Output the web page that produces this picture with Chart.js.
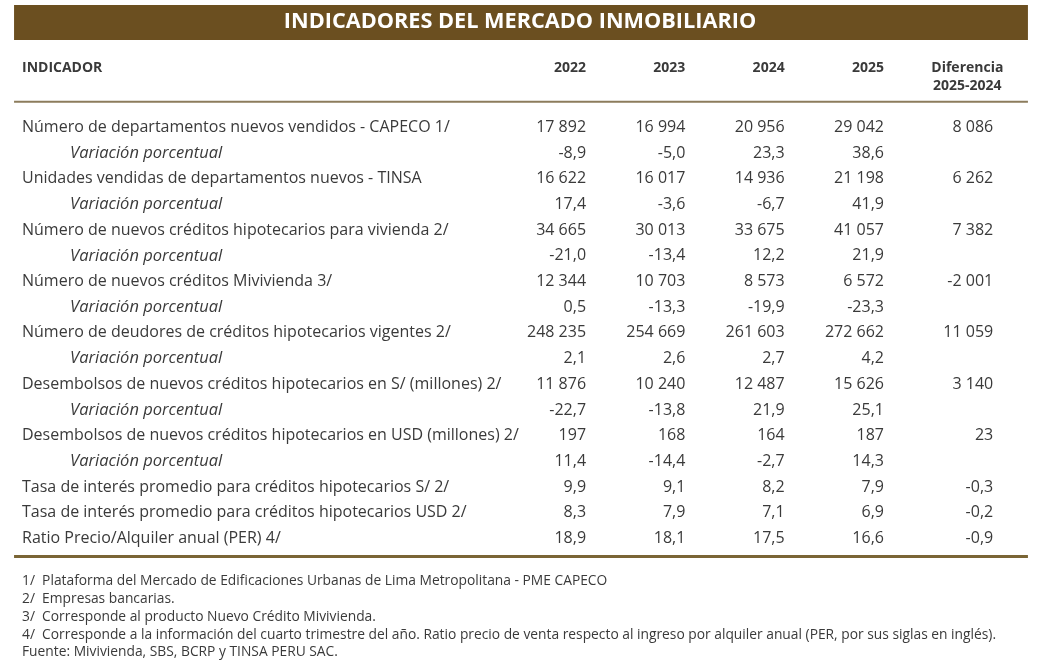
<!DOCTYPE html>
<html lang="es">
<head>
<meta charset="utf-8">
<title>Indicadores del mercado inmobiliario</title>
<script src="https://cdn.jsdelivr.net/npm/chart.js@4.4.1/dist/chart.umd.min.js"></script>
<style>
  html, body { margin: 0; padding: 0; background: #ffffff; }
  #contenedor { width: 1040px; height: 669px; }
</style>
</head>
<body>
<div id="contenedor"><canvas id="cuadroTabla"></canvas></div>
<script>

// datos de la tabla
var titulo = "INDICADORES DEL MERCADO INMOBILIARIO";
var anios = ["2022", "2023", "2024", "2025"];
var encabezadoDiferencia = ["Diferencia", "2025-2024"];

var indicadores = [
  "Número de departamentos nuevos vendidos - CAPECO 1/",
  "Variación porcentual",
  "Unidades vendidas de departamentos nuevos - TINSA",
  "Variación porcentual",
  "Número de nuevos créditos hipotecarios para vivienda 2/",
  "Variación porcentual",
  "Número de nuevos créditos Mivivienda 3/",
  "Variación porcentual",
  "Número de deudores de créditos hipotecarios vigentes 2/",
  "Variación porcentual",
  "Desembolsos de nuevos créditos hipotecarios en S/ (millones) 2/",
  "Variación porcentual",
  "Desembolsos de nuevos créditos hipotecarios en USD (millones) 2/",
  "Variación porcentual",
  "Tasa de interés promedio para créditos hipotecarios S/ 2/",
  "Tasa de interés promedio para créditos hipotecarios USD 2/",
  "Ratio Precio/Alquiler anual (PER) 4/"
];

var esVariacion = [false, true, false, true, false, true, false, true, false, true, false, true, false, true, false, false, false];
var decimales = [0, 1, 0, 1, 0, 1, 0, 1, 0, 1, 0, 1, 0, 1, 1, 1, 1];

var valores2022 = [17892, -8.9, 16622, 17.4, 34665, -21.0, 12344, 0.5, 248235, 2.1, 11876, -22.7, 197, 11.4, 9.9, 8.3, 18.9];
var valores2023 = [16994, -5.0, 16017, -3.6, 30013, -13.4, 10703, -13.3, 254669, 2.6, 10240, -13.8, 168, -14.4, 9.1, 7.9, 18.1];
var valores2024 = [20956, 23.3, 14936, -6.7, 33675, 12.2, 8573, -19.9, 261603, 2.7, 12487, 21.9, 164, -2.7, 8.2, 7.1, 17.5];
var valores2025 = [29042, 38.6, 21198, 41.9, 41057, 21.9, 6572, -23.3, 272662, 4.2, 15626, 25.1, 187, 14.3, 7.9, 6.9, 16.6];
var diferencia = [8086, null, 6262, null, 7382, null, -2001, null, 11059, null, 3140, null, 23, null, -0.3, -0.2, -0.9];

var notas = [
  "1/  Plataforma del Mercado de Edificaciones Urbanas de Lima Metropolitana - PME CAPECO",
  "2/  Empresas bancarias.",
  "3/  Corresponde al producto Nuevo Crédito Mivivienda.",
  "4/  Corresponde a la información del cuarto trimestre del año. Ratio precio de venta respecto al ingreso por alquiler anual (PER, por sus siglas en inglés).",
  "Fuente: Mivivienda, SBS, BCRP y TINSA PERU SAC."
];


// posiciones de columnas en unidades del eje x (una unidad = una columna de año)
var colAnios = [0, 1, 2, 3];
var colDiferencia = 4.1;
var colEtiqueta = -5.68;
var colSangria = -5.196;
var colCentroDif = 3.84;
var bordeIzq = -5.76;
var bordeDer = 4.45;

var fuente = "'Open Sans', 'Noto Sans', sans-serif";
var colorTexto = "#3a3a3a";
var colorMarron = "#6b4f20";


function formatearNumero (valor, dec) {
  var texto = Math.abs(valor).toFixed(dec);
  var partes = texto.split(".");
  var entero = partes[0].replace(/\B(?=(\d{3})+(?!\d))/g, " ");
  var resultado = entero + (partes.length > 1 ? "," + partes[1] : "");
  return (valor < 0 ? "-" : "") + resultado;
}


var columnas = [valores2022, valores2023, valores2024, valores2025, diferencia];
var posiciones = colAnios.concat([colDiferencia]);

var datasets = columnas.map(function (serie, c) {
  return {
    label: c < 4 ? anios[c] : encabezadoDiferencia.join(" "),
    data: serie.map(function (v, i) {
      return { x: posiciones[c], y: v === null ? null : i };
    }),
    pointRadius: 0,
    pointHoverRadius: 0,
    showLine: false
  };
});


var pluginTabla = {
  id: "pluginTabla",
  beforeDraw: function (chart) {
    var ctx = chart.ctx;
    var x = chart.scales.x;
    var t = chart.titleBlock;
    ctx.save();
    ctx.fillStyle = colorMarron;
    ctx.fillRect(x.getPixelForValue(bordeIzq), t.top, x.getPixelForValue(bordeDer) - x.getPixelForValue(bordeIzq), 35);
    ctx.restore();
  },
  afterDraw: function (chart) {
    var ctx = chart.ctx;
    var x = chart.scales.x;
    var y = chart.scales.y;
    ctx.save();

    // lineas horizontales
    var izq = x.getPixelForValue(bordeIzq);
    var der = x.getPixelForValue(bordeDer);
    ctx.strokeStyle = "#8c7c5c";
    ctx.lineWidth = 2;
    ctx.beginPath();
    ctx.moveTo(izq, y.getPixelForValue(-1.004));
    ctx.lineTo(der, y.getPixelForValue(-1.004));
    ctx.stroke();
    ctx.strokeStyle = "#7a6535";
    ctx.lineWidth = 3;
    ctx.beginPath();
    ctx.moveTo(izq, y.getPixelForValue(16.71));
    ctx.lineTo(der, y.getPixelForValue(16.71));
    ctx.stroke();

    // encabezado
    ctx.fillStyle = colorTexto;
    ctx.textBaseline = "middle";
    ctx.font = "bold 14px " + fuente;
    ctx.textAlign = "left";
    ctx.fillText("INDICADOR", x.getPixelForValue(colEtiqueta), y.getPixelForValue(-2.316));
    ctx.textAlign = "right";
    anios.forEach(function (a, c) {
      ctx.fillText(a, x.getPixelForValue(colAnios[c]), y.getPixelForValue(-2.316));
    });
    ctx.textAlign = "center";
    ctx.fillText(encabezadoDiferencia[0], x.getPixelForValue(colCentroDif), y.getPixelForValue(-2.316));
    ctx.fillText(encabezadoDiferencia[1], x.getPixelForValue(colCentroDif), y.getPixelForValue(-1.615));

    // etiquetas de filas
    indicadores.forEach(function (nombre, i) {
      ctx.textAlign = "left";
      if (esVariacion[i]) {
        ctx.font = "italic 16.5px " + fuente;
        ctx.fillText(nombre, x.getPixelForValue(colSangria), y.getPixelForValue(i));
      } else {
        ctx.font = "16px " + fuente;
        ctx.fillText(nombre, x.getPixelForValue(colEtiqueta), y.getPixelForValue(i));
      }
    });

    // valores
    ctx.font = "16px " + fuente;
    ctx.textAlign = "right";
    columnas.forEach(function (serie, c) {
      var meta = chart.getDatasetMeta(c);
      serie.forEach(function (v, i) {
        if (v === null) return;
        var punto = meta.data[i];
        ctx.fillText(formatearNumero(v, decimales[i]), punto.x, punto.y);
      });
    });

    ctx.restore();
  }
};


var cuadroTabla = document.getElementById("cuadroTabla");

var tabla = new Chart(cuadroTabla, {
  type: "scatter",
  data: { datasets: datasets },
  options: {
    responsive: true,
    maintainAspectRatio: false,
    animation: false,
    events: [],
    layout: { padding: { top: 5, bottom: 7.6, left: 22, right: 22 } },
    scales: {
      x: { type: "linear", display: false, min: -5.680, max: 4.350 },
      y: { type: "linear", display: false, reverse: true, min: -0.5, max: 16.5 }
    },
    plugins: {
      legend: { display: false },
      tooltip: { enabled: false },
      title: {
        display: true,
        text: titulo,
        color: "#ffffff",
        font: { family: fuente, size: 21.7, weight: "bold", lineHeight: 1.2 },
        padding: { top: 4, bottom: 79.6 }
      },
      subtitle: {
        display: true,
        position: "bottom",
        align: "start",
        text: notas,
        color: colorTexto,
        font: { family: fuente, size: 13.8, lineHeight: 1.29 },
        padding: { top: 21.2, bottom: 0 }
      }
    }
  },
  plugins: [pluginTabla]
});

</script>
</body>
</html>
